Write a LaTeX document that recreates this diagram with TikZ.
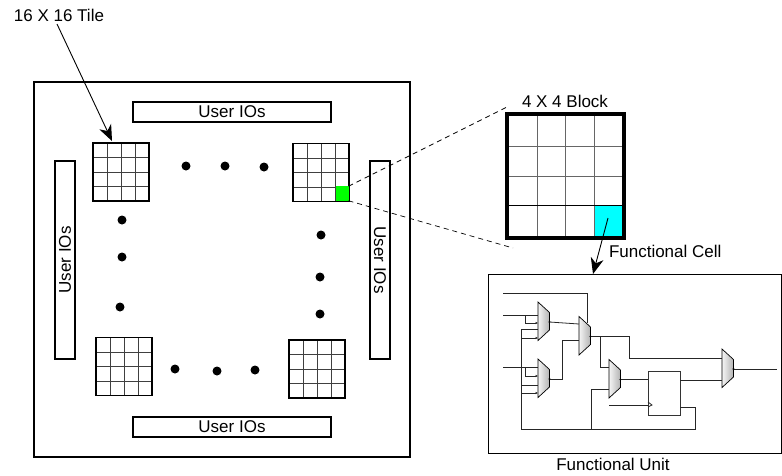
\documentclass[tikz,border=0pt]{standalone}
\usepackage{fontspec}
\setmainfont{Liberation Sans}
\usetikzlibrary{positioning, arrows.meta, calc}
\definecolor{cellcyan}{RGB}{0,255,255}
\definecolor{cellgreen}{RGB}{0,255,0}

\begin{document}
\begin{tikzpicture}[
  x=1pt, y=-1pt,
  every node/.style={font=\fontsize{17}{19}\selectfont, inner sep=0pt, outer sep=0pt},
  iobox/.style={draw, line width=1.5pt, minimum width=198pt, minimum height=20pt},
  tile/.style={draw, line width=1.4pt, minimum width=56pt, minimum height=58pt, path picture={
    \foreach \i in {1,2,3}{
      \draw[black!75, line width=0.8pt] ($(path picture bounding box.south west)!\i/4!(path picture bounding box.south east)$)
        -- ($(path picture bounding box.north west)!\i/4!(path picture bounding box.north east)$);
      \draw[black!75, line width=0.8pt] ($(path picture bounding box.south west)!\i/4!(path picture bounding box.north west)$)
        -- ($(path picture bounding box.south east)!\i/4!(path picture bounding box.north east)$);
    }}},
  dot/.style={circle, fill=black, minimum size=9pt},
  arr/.style={-{Stealth[length=16pt, width=13pt, inset=5pt]}, line width=0.9pt},
  zoomline/.style={dashed, dash pattern=on 5pt off 4pt, line width=0.7pt},
  wire/.style={line width=0.8pt, black!85},
  wirein/.style={wire, -{Latex[length=2.5pt, width=2.5pt]}},
  muxpic/.pic={
    \draw[draw=black, line width=0.7pt, left color=gray!8, right color=gray!60]
      (0,0) -- (11.5,10.5) -- (11.5,28) -- (0,38.5) -- cycle;
    \coordinate (-out) at (11.5,20);
    \fill (-out) circle (1.1);
  }
]
\useasboundingbox (0,0) rectangle (782,475);

% ---- Chip with IO strips ----
\node[draw, line width=2pt, minimum width=376pt, minimum height=375pt] (chip) at (222,269.5) {};
\node[iobox] (ioTop) at (232,112) {User IOs};
\node[iobox] (ioBot) at (232,427) {User IOs};
\node[iobox, rotate=90] (ioLeft) at (65,260) {User IOs};
\node[iobox, rotate=-90] (ioRight) at (380,260) {User IOs};

% ---- Tiles ----
\node[tile] (tileA) at (121,172) {};
\node[tile] (tileB) at (321,172.5) {};
\node[tile] (tileC) at (124,366.5) {};
\node[tile] (tileD) at (317,369) {};
\node[fill=cellgreen, minimum width=13pt, minimum height=14.5pt] (cellGreen) at (342,193.5) {};

% ---- Dots between tiles ----
\foreach \px/\py [count=\n] in {186/166, 225/166, 264/167, 122/220, 122/257, 120/307,
                               321/235, 320/277, 320/314, 175/369, 217/371, 255/370}
  \node[dot] (dot\n) at (\px,\py) {};

% ---- Block ----
\node[fill=cellcyan, minimum width=28pt, minimum height=31pt] (cellCyan) at (608,220.5) {};
\node[draw, line width=3.2pt, minimum width=117pt, minimum height=124pt] (block) at (565.5,176) {};
\foreach \gx in {537,565,594}
  \draw[black!60, line width=0.8pt] (\gx,116) -- (\gx,236);
\foreach \gy in {146,176}
  \draw[black!60, line width=0.8pt] (509,\gy) -- (622,\gy);
\draw[line width=0.8pt] (509,205) -- (622,205);
\node (blockLabel) at (565,101.5) {4 X 4 Block};

% ---- Labels and arrows ----
\node[anchor=east] (tileLabel) at (104,15.5) {16 X 16 Tile};
\coordinate (tileFrom) at (57,24);
\coordinate (tileTo) at (112,141);
\draw[arr] (tileFrom) -- (tileTo);
\coordinate (zoomTop) at (507,107);
\coordinate (zoomBot) at (513,248);
\draw[zoomline] (cellGreen.north east) -- (zoomTop);
\draw[zoomline] (cellGreen.south east) -- (zoomBot);
\node[anchor=west] (cellLabel) at (609,251.5) {Functional Cell};

% ---- Functional unit ----
\node[draw, line width=0.9pt, minimum width=293pt, minimum height=179pt] (unit) at (634.5,363.5) {};
\node (unitLabel) at (613,464) {Functional Unit};
\coordinate (cellFrom) at (608,218);
\coordinate (cellTo) at (593,274);
\draw[arr] (cellFrom) -- (cellTo);

\pic (muxA) at (538,302) {muxpic};
\pic (muxB) at (538,359) {muxpic};
\pic (muxC) at (579,316.5) {muxpic};
\pic (muxD) at (609,359.5) {muxpic};
\pic (muxE) at (722,349) {muxpic};
\node[draw=black!80, line width=0.8pt, minimum width=32pt, minimum height=44pt] (ff) at (664,393) {};

% ---- Wires ----
\draw[wire] (503,293) -- (587,293) -- (587,323);
\draw[wire] (503,315) -- (538,315);
\draw[wirein] (525,315) |- (538,323);
\draw[wire] (503,367) -- (538,367);
\draw[wirein] (525,367) |- (538,376);
\draw[wire] (538,329) -- (521,329) -- (521,429) -- (695,429) -- (695,407) -- (ff.east |- 0,407);
\draw[wirein] (521,338) -- (538,338);
\draw[wire] (521,385) -- (538,385);
\draw[wirein] (521,393) -- (538,393);
\draw[wire] (591,429) |- (609,389);
\draw[wire] (muxA-out) -- (579,324);
\draw[wire] (muxB-out) -| (562,340) -- (579,340);
\draw[wire] (muxC-out) -| (629,358) -- (722,358);
\draw[wire] (600,336.5) |- (609,367);
\draw[wire] (muxD-out) -- (ff.west |- muxD-out);
\draw[wire] (609,405) -- (648,405);
\draw[wire] (648,402) -- (652,405) -- (648,407);
\draw[wire] (ff.east |- 0,380) -- (722,380);
\draw[wire] (muxE-out) -- (777,369);

\end{tikzpicture}
\end{document}
